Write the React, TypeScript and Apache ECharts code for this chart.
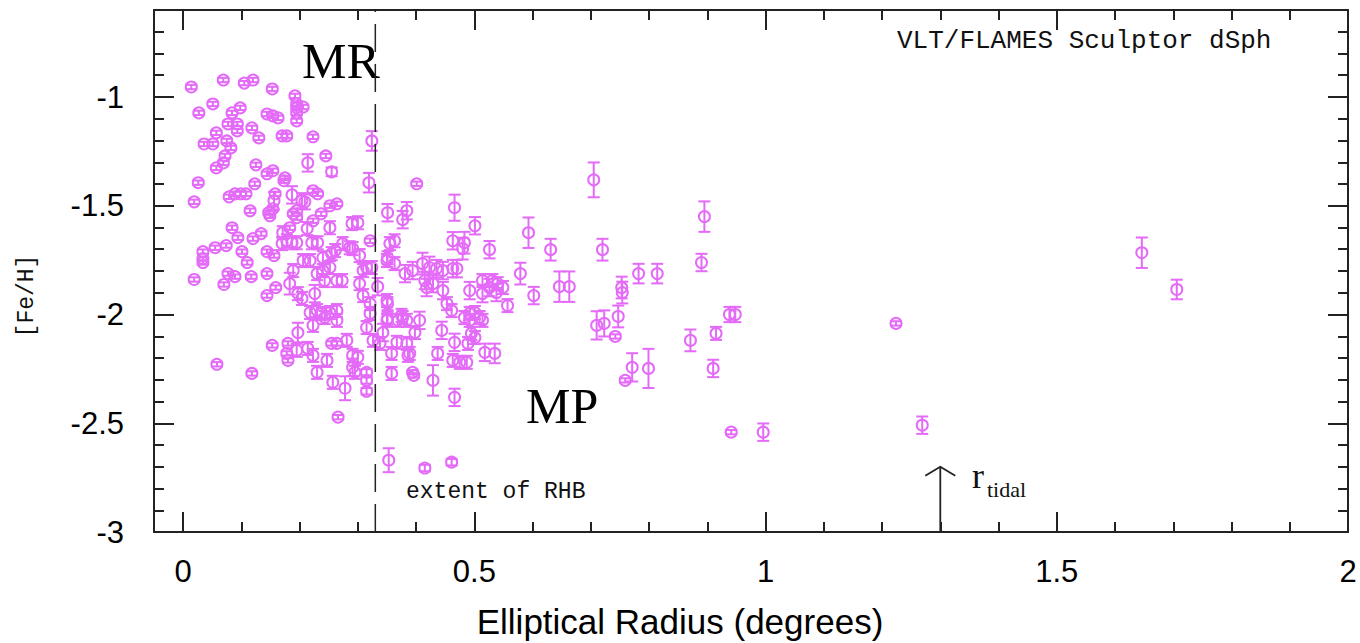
import React, { useEffect, useRef } from "react";
import * as echarts from "echarts";

// Elliptical radius (degrees)
const radius = [
  0.014, 0.069, 0.105, 0.120, 0.153, 0.192, 0.195, 0.195, 0.195, 0.195,
  0.206, 0.027, 0.051, 0.084, 0.098, 0.077, 0.093, 0.093, 0.118, 0.130,
  0.144, 0.154, 0.163, 0.036, 0.051, 0.075, 0.082, 0.057, 0.072, 0.069,
  0.057, 0.125, 0.144, 0.154, 0.170, 0.178, 0.223, 0.175, 0.214, 0.245,
  0.255, 0.324, 0.319, 0.401, 0.026, 0.123, 0.019, 0.079, 0.089, 0.099,
  0.108, 0.115, 0.173, 0.156, 0.147, 0.149, 0.187, 0.204, 0.209, 0.195,
  0.189, 0.223, 0.231, 0.237, 0.223, 0.252, 0.264, 0.252, 0.290, 0.300,
  0.158, 0.154, 0.183, 0.195, 0.351, 0.377, 0.384, 0.466, 0.501, 0.526,
  0.084, 0.094, 0.120, 0.134, 0.034, 0.034, 0.034, 0.055, 0.074, 0.101,
  0.110, 0.077, 0.089, 0.070, 0.117, 0.019, 0.144, 0.156, 0.144, 0.159,
  0.144, 0.171, 0.178, 0.170, 0.187, 0.195, 0.213, 0.221, 0.231, 0.183,
  0.189, 0.197, 0.204, 0.206, 0.218, 0.226, 0.230, 0.240, 0.252, 0.243,
  0.264, 0.273, 0.255, 0.261, 0.240, 0.274, 0.286, 0.291, 0.303, 0.321,
  0.315, 0.324, 0.303, 0.309, 0.334, 0.355, 0.363, 0.350, 0.381, 0.394,
  0.411, 0.423, 0.435, 0.446, 0.418, 0.429, 0.446, 0.463, 0.483, 0.480,
  0.492, 0.514, 0.526, 0.538, 0.463, 0.218, 0.230, 0.238, 0.252, 0.264,
  0.223, 0.197, 0.243, 0.264, 0.153, 0.180, 0.178, 0.180, 0.195, 0.214,
  0.223, 0.247, 0.230, 0.255, 0.264, 0.281, 0.257, 0.278, 0.291, 0.300,
  0.291, 0.295, 0.315, 0.315, 0.315, 0.266, 0.058, 0.118, 0.309, 0.321,
  0.321, 0.315, 0.326, 0.338, 0.343, 0.350, 0.350, 0.367, 0.358, 0.384,
  0.389, 0.394, 0.396, 0.377, 0.384, 0.406, 0.398, 0.429, 0.437, 0.444,
  0.453, 0.461, 0.466, 0.463, 0.475, 0.466, 0.487, 0.483, 0.492, 0.501,
  0.509, 0.514, 0.489, 0.501, 0.518, 0.535, 0.514, 0.531, 0.540, 0.549,
  0.557, 0.351, 0.353, 0.415, 0.461, 0.358, 0.386, 0.369, 0.375, 0.351,
  0.351, 0.363, 0.415, 0.495, 0.492, 0.470, 0.579, 0.593, 0.602, 0.631,
  0.646, 0.663, 0.705, 0.720, 0.710, 0.723, 0.742, 0.747, 0.753, 0.754,
  0.759, 0.771, 0.799, 0.782, 0.814, 0.871, 0.890, 0.895, 0.910, 0.915,
  0.938, 0.948, 0.941, 0.996, 1.224, 1.269, 1.646, 1.706,
];

// [Fe/H]
const feh = [
  -0.954, -0.922, -0.936, -0.922, -0.963, -0.995, -1.032, -1.050, -1.073, -1.110,
  -1.046, -1.073, -1.032, -1.073, -1.050, -1.124, -1.124, -1.156, -1.142, -1.188,
  -1.078, -1.087, -1.096, -1.216, -1.216, -1.202, -1.234, -1.165, -1.271, -1.303,
  -1.326, -1.312, -1.353, -1.339, -1.179, -1.179, -1.183, -1.372, -1.303, -1.271,
  -1.344, -1.202, -1.394, -1.399, -1.394, -1.399, -1.482, -1.459, -1.445, -1.445,
  -1.445, -1.523, -1.385, -1.477, -1.532, -1.546, -1.450, -1.477, -1.482, -1.523,
  -1.537, -1.431, -1.445, -1.537, -1.569, -1.500, -1.491, -1.601, -1.582, -1.578,
  -1.445, -1.514, -1.601, -1.555, -1.532, -1.564, -1.523, -1.509, -1.592, -1.702,
  -1.601, -1.647, -1.651, -1.628, -1.711, -1.743, -1.761, -1.693, -1.683, -1.711,
  -1.761, -1.812, -1.826, -1.862, -1.826, -1.839, -1.711, -1.729, -1.812, -1.876,
  -1.913, -1.624, -1.661, -1.674, -1.670, -1.670, -1.605, -1.670, -1.670, -1.858,
  -1.798, -1.904, -1.926, -1.752, -1.752, -1.904, -1.812, -1.798, -1.784, -1.844,
  -1.844, -1.844, -1.720, -1.706, -1.739, -1.674, -1.693, -1.697, -1.729, -1.661,
  -1.784, -1.784, -1.858, -1.798, -1.872, -1.674, -1.661, -1.752, -1.812, -1.798,
  -1.766, -1.784, -1.789, -1.798, -1.876, -1.858, -1.890, -1.661, -1.670, -1.697,
  -1.890, -1.904, -1.876, -1.899, -1.789, -1.991, -1.982, -1.995, -1.991, -1.982,
  -2.050, -2.083, -2.014, -2.027, -2.142, -2.133, -2.179, -2.211, -2.165, -2.156,
  -2.188, -2.211, -2.266, -2.133, -2.133, -2.119, -2.312, -2.339, -2.188, -2.197,
  -2.243, -2.266, -2.266, -2.303, -2.353, -2.472, -2.229, -2.271, -1.913, -1.950,
  -1.995, -2.060, -2.119, -2.133, -2.083, -2.027, -1.936, -2.128, -2.179, -2.133,
  -2.179, -2.266, -2.280, -2.014, -2.027, -2.027, -2.083, -2.303, -2.179, -2.073,
  -1.950, -1.982, -2.128, -2.211, -2.220, -2.381, -2.220, -2.014, -1.995, -1.991,
  -2.014, -2.027, -2.133, -2.106, -2.174, -2.179, -1.844, -1.844, -1.858, -1.876,
  -1.959, -1.950, -2.670, -2.706, -2.679, -2.271, -2.188, -2.027, -2.004, -2.018,
  -1.739, -1.766, -1.844, -2.087, -2.027, -1.789, -1.812, -1.624, -1.913, -1.702,
  -1.872, -1.872, -1.381, -1.702, -2.050, -2.041, -2.101, -2.009, -1.876, -1.899,
  -2.303, -2.243, -2.248, -1.812, -1.812, -2.119, -1.761, -1.550, -2.248, -2.087,
  -2.000, -2.000, -2.541, -2.541, -2.041, -2.509, -1.716, -1.885,
];

// [Fe/H] error (half length of the error bar)
const fehErr = [
  0.01, 0.01, 0.01, 0.01, 0.01, 0.01, 0.01, 0.01, 0.01, 0.01,
  0.01, 0.01, 0.01, 0.01, 0.01, 0.01, 0.01, 0.01, 0.01, 0.01,
  0.01, 0.01, 0.01, 0.01, 0.01, 0.01, 0.01, 0.01, 0.01, 0.01,
  0.01, 0.01, 0.01, 0.01, 0.01, 0.01, 0.01, 0.01, 0.04, 0.01,
  0.02, 0.045, 0.045, 0.01, 0.01, 0.01, 0.01, 0.01, 0.01, 0.01,
  0.01, 0.01, 0.01, 0.04, 0.01, 0.01, 0.04, 0.035, 0.035, 0.01,
  0.01, 0.01, 0.01, 0.01, 0.01, 0.01, 0.01, 0.03, 0.03, 0.03,
  0.01, 0.01, 0.01, 0.01, 0.04, 0.04, 0.04, 0.06, 0.04, 0.04,
  0.01, 0.01, 0.01, 0.01, 0.01, 0.01, 0.01, 0.01, 0.01, 0.01,
  0.01, 0.01, 0.01, 0.01, 0.01, 0.01, 0.01, 0.01, 0.01, 0.01,
  0.01, 0.03, 0.03, 0.03, 0.03, 0.03, 0.03, 0.03, 0.03, 0.05,
  0.03, 0.03, 0.03, 0.03, 0.03, 0.04, 0.03, 0.03, 0.03, 0.03,
  0.03, 0.03, 0.03, 0.03, 0.03, 0.03, 0.03, 0.03, 0.03, 0.01,
  0.03, 0.03, 0.03, 0.03, 0.04, 0.03, 0.03, 0.03, 0.04, 0.04,
  0.05, 0.05, 0.04, 0.04, 0.04, 0.04, 0.04, 0.04, 0.05, 0.05,
  0.04, 0.04, 0.04, 0.04, 0.04, 0.03, 0.03, 0.03, 0.03, 0.03,
  0.03, 0.045, 0.03, 0.03, 0.01, 0.01, 0.01, 0.01, 0.03, 0.03,
  0.03, 0.03, 0.03, 0.01, 0.01, 0.03, 0.03, 0.055, 0.03, 0.03,
  0.04, 0.03, 0.015, 0.015, 0.015, 0.01, 0.01, 0.01, 0.03, 0.03,
  0.03, 0.03, 0.03, 0.03, 0.04, 0.03, 0.03, 0.03, 0.03, 0.03,
  0.03, 0.01, 0.01, 0.03, 0.03, 0.04, 0.03, 0.07, 0.03, 0.04,
  0.03, 0.03, 0.04, 0.03, 0.03, 0.04, 0.03, 0.03, 0.03, 0.03,
  0.03, 0.03, 0.03, 0.03, 0.04, 0.045, 0.03, 0.03, 0.03, 0.03,
  0.03, 0.03, 0.055, 0.015, 0.015, 0.03, 0.03, 0.03, 0.03, 0.03,
  0.03, 0.03, 0.04, 0.03, 0.03, 0.04, 0.05, 0.07, 0.04, 0.05,
  0.07, 0.07, 0.08, 0.05, 0.065, 0.06, 0.01, 0.05, 0.05, 0.05,
  0.01, 0.065, 0.09, 0.045, 0.045, 0.05, 0.04, 0.07, 0.04, 0.03,
  0.035, 0.035, 0.01, 0.04, 0.01, 0.04, 0.07, 0.045,
];

const xMajorTicks = [0, 0.5, 1, 1.5, 2];
const xMinorTicks = [
  0.1, 0.2, 0.3, 0.4, 0.6, 0.7, 0.8, 0.9, 1.1, 1.2, 1.3, 1.4, 1.6, 1.7, 1.8, 1.9,
];
const yMajorTicks = [-3, -2.5, -2, -1.5, -1];
const yMinorTicks = [
  -2.9, -2.8, -2.7, -2.6, -2.4, -2.3, -2.2, -2.1, -1.9, -1.8, -1.7, -1.6, -1.4,
  -1.3, -1.2, -1.1, -0.9, -0.8, -0.7,
];

const X_MIN = -0.05;
const X_MAX = 2;
const Y_MIN = -3;
const Y_MAX = -0.6;

const rhbExtent = 0.33;
const tidalRadius = 1.3;
const tidalArrowTop = -2.7;

const POINT_COLOR = "#e46af8";
const AXIS_COLOR = "#222";
const SANS = "'Liberation Sans', Arial, Helvetica, sans-serif";
const MONO = "'Liberation Mono', 'DejaVu Sans Mono', monospace";
const SERIF = "'Liberation Serif', 'DejaVu Serif', serif";

function makeX(position: string, major: boolean, showLine: boolean, showLabel: boolean) {
  return {
    type: "value",
    gridIndex: 0,
    position,
    min: X_MIN,
    max: X_MAX,
    axisLine: { show: showLine, onZero: false, lineStyle: { color: AXIS_COLOR, width: 2 } },
    axisTick: {
      show: true,
      inside: true,
      length: major ? 20 : 10,
      customValues: major ? xMajorTicks : xMinorTicks,
      lineStyle: { color: AXIS_COLOR, width: 2 },
    },
    axisLabel: {
      show: showLabel,
      customValues: xMajorTicks,
      margin: 24,
      fontSize: 31,
      fontFamily: SANS,
      color: "#000",
      formatter: (v: number) => String(v),
    },
    splitLine: { show: false },
  };
}

function makeY(position: string, major: boolean, showLine: boolean, showLabel: boolean) {
  return {
    type: "value",
    gridIndex: 0,
    position,
    min: Y_MIN,
    max: Y_MAX,
    axisLine: { show: showLine, onZero: false, lineStyle: { color: AXIS_COLOR, width: 2 } },
    axisTick: {
      show: true,
      inside: true,
      length: major ? 20 : 10,
      customValues: major ? yMajorTicks : yMinorTicks,
      lineStyle: { color: AXIS_COLOR, width: 2 },
    },
    axisLabel: {
      show: showLabel,
      customValues: yMajorTicks,
      margin: 30,
      fontSize: 31,
      fontFamily: SANS,
      color: "#000",
      formatter: (v: number) => String(v),
    },
    splitLine: { show: false },
  };
}

export default function App() {
  const ref = useRef<HTMLDivElement>(null);

  useEffect(() => {
    if (!ref.current) return;
    const chart = echarts.init(ref.current, null, { renderer: "svg" });

    const points = radius.map((r, i) => [r, feh[i], fehErr[i]]);

    const option = {
      animation: false,
      backgroundColor: "#fff",
      grid: { left: 154, top: 10, width: 1194, height: 522, containLabel: false },
      xAxis: [
        makeX("bottom", true, true, true),
        makeX("bottom", false, false, false),
        makeX("top", true, true, false),
        makeX("top", false, false, false),
      ],
      yAxis: [
        makeY("left", true, true, true),
        makeY("left", false, false, false),
        makeY("right", true, true, false),
        makeY("right", false, false, false),
      ],
      series: [
        {
          type: "custom",
          name: "stars",
          xAxisIndex: 0,
          yAxisIndex: 0,
          data: points,
          renderItem: (params: any, api: any) => {
            const x = api.value(0);
            const y = api.value(1);
            const e = api.value(2);
            const c = api.coord([x, y]);
            const t = api.coord([x, y + e]);
            const b = api.coord([x, y - e]);
            const hw = 6;
            const st = { stroke: POINT_COLOR, lineWidth: 2, fill: "none" };
            return {
              type: "group",
              children: [
                { type: "circle", shape: { cx: c[0], cy: c[1], r: 5.5 }, style: st },
                { type: "line", shape: { x1: t[0], y1: t[1], x2: b[0], y2: b[1] }, style: st },
                { type: "line", shape: { x1: t[0] - hw, y1: t[1], x2: t[0] + hw, y2: t[1] }, style: st },
                { type: "line", shape: { x1: b[0] - hw, y1: b[1], x2: b[0] + hw, y2: b[1] }, style: st },
              ],
            };
          },
        },
        {
          type: "custom",
          name: "annotations",
          xAxisIndex: 0,
          yAxisIndex: 0,
          silent: true,
          data: [[rhbExtent, tidalRadius, tidalArrowTop]],
          renderItem: (params: any, api: any) => {
            const xr = api.value(0);
            const xt = api.value(1);
            const yt = api.value(2);
            const d0 = api.coord([xr, Y_MIN]);
            const d1 = api.coord([xr, Y_MAX]);
            const a0 = api.coord([xt, Y_MIN]);
            const a1 = api.coord([xt, yt]);
            return {
              type: "group",
              children: [
                {
                  type: "line",
                  shape: { x1: d0[0], y1: d0[1], x2: d1[0], y2: d1[1] },
                  style: { stroke: AXIS_COLOR, lineWidth: 1.5, lineDash: [28, 12] },
                },
                {
                  type: "line",
                  shape: { x1: a0[0], y1: a0[1], x2: a1[0], y2: a1[1] },
                  style: { stroke: AXIS_COLOR, lineWidth: 1.8 },
                },
                {
                  type: "polyline",
                  shape: { points: [[a1[0] - 15, a1[1] + 9], [a1[0], a1[1]], [a1[0] + 15, a1[1] + 9]] },
                  style: { stroke: AXIS_COLOR, lineWidth: 1.8, fill: "none" },
                },
              ],
            };
          },
        },
      ],
      graphic: [
        {
          type: "text",
          left: 897,
          top: 28,
          style: { text: "VLT/FLAMES Sculptor dSph", font: `26px ${MONO}`, fill: "#111" },
        },
        {
          type: "text",
          left: 406,
          top: 480,
          style: { text: "extent of RHB", font: `23px ${MONO}`, fill: "#111" },
        },
        {
          type: "text",
          left: 302,
          top: 36,
          style: { text: "MR", font: `50px ${SERIF}`, fill: "#000" },
        },
        {
          type: "text",
          left: 526,
          top: 381,
          style: { text: "MP", font: `50px ${SERIF}`, fill: "#000" },
        },
        {
          type: "text",
          left: 972,
          top: 458,
          style: { text: "r", font: `36px ${SERIF}`, fill: "#111" },
        },
        {
          type: "text",
          left: 987,
          top: 478,
          style: { text: "tidal", font: `22px ${SERIF}`, fill: "#111" },
        },
        {
          type: "text",
          x: 27,
          y: 296,
          rotation: Math.PI / 2,
          style: {
            text: "[Fe/H]",
            font: `23px ${MONO}`,
            fill: "#111",
            align: "center",
            verticalAlign: "middle",
          },
        },
        {
          type: "text",
          x: 680,
          y: 621,
          style: {
            text: "Elliptical Radius (degrees)",
            font: `35px ${SANS}`,
            fill: "#000",
            align: "center",
            verticalAlign: "middle",
          },
        },
      ],
    };

    chart.setOption(option as any);
    return () => {
      chart.dispose();
    };
  }, []);

  return (
    <div
      ref={ref}
      style={{ position: "fixed", left: 0, top: 0, width: 1360, height: 643, background: "#fff" }}
    />
  );
}
